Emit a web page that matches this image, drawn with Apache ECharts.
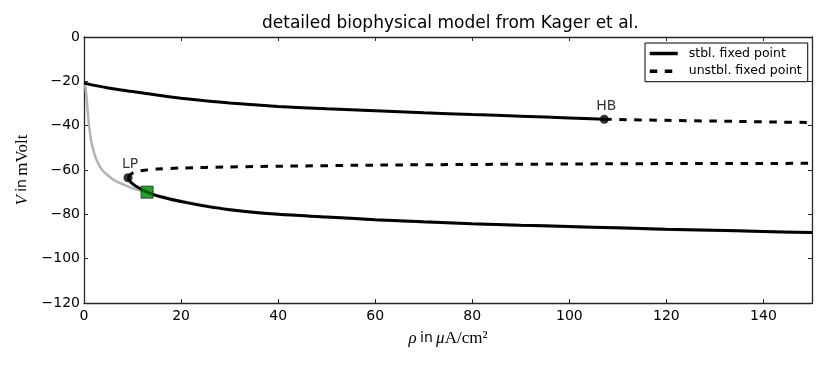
<!DOCTYPE html>
<html>
<head>
<meta charset="utf-8">
<script src="https://cdn.jsdelivr.net/npm/echarts@6/dist/echarts.min.js"></script>
<style>
html,body{margin:0;padding:0;background:#fff;}
#chart{width:830px;height:369px;}
</style>
</head>
<body>
<div id="chart"></div>
<script>
// ---- data ----
const titleText = 'detailed biophysical model from Kager et al.';
const legendNames = ['stbl. fixed point', 'unstbl. fixed point'];

const upperStableX = [0, 5, 10, 15, 20, 25, 30, 40, 50, 60, 70, 80, 90, 100, 107.2];
const upperStableY = [-20.8, -23.0, -24.6, -26.2, -27.6, -28.8, -29.8, -31.3, -32.4, -33.3, -34.2, -35.0, -35.7, -36.5, -37.1];

const upperUnstableX = [107.2, 120, 135, 150];
const upperUnstableY = [-37.1, -37.6, -38.1, -38.6];

const middleUnstableX = [9.07, 9.5, 10.2, 11, 12.5, 15, 20, 30, 40, 60, 80, 100, 120, 150];
const middleUnstableY = [-63.5, -62.2, -61.2, -60.6, -60.1, -59.6, -59.1, -58.6, -58.3, -57.8, -57.5, -57.3, -57.1, -57.0];

const lowerStableX = [9.07, 9.6, 10.3, 11, 12, 13, 14.5, 16, 18, 20, 25, 30, 40, 50, 60, 70, 80, 90, 100, 110, 120, 130, 140, 150];
const lowerStableY = [-63.5, -65.4, -66.7, -67.7, -68.9, -70.0, -71.2, -72.2, -73.3, -74.2, -76.3, -77.9, -80.0, -81.2, -82.4, -83.4, -84.2, -84.9, -85.5, -86.1, -86.7, -87.2, -87.7, -88.2];

const greyX = [0.2, 0.38, 0.55, 0.82, 1.1, 1.5, 2.0, 2.7, 3.7, 5.1, 6.4, 8.2, 9.9, 11.5, 13, 15, 20, 30, 40, 60, 80, 100, 120, 150];
const greyY = [-20.9, -24.0, -27.6, -35.1, -41.1, -47.1, -51.6, -56.1, -59.9, -62.8, -64.8, -66.6, -68.1, -69.2, -70.1, -71.4, -74.0, -77.7, -79.9, -82.6, -84.4, -85.7, -86.9, -88.4];

const bifNames = ['LP', 'HB'];
const bifX = [9.07, 107.2];
const bifY = [-63.5, -37.1];

const squareX = [13.0];
const squareY = [-70.0];

const xTicks = {min: 0, max: 150, interval: 20};
const yTicks = {min: -120, max: 0, interval: 20};

// ---- helpers ----
const zip = (xs, ys) => xs.map((x, i) => [x, ys[i]]);
const minusFmt = v => (v < 0 ? '\u2212' + Math.abs(v) : String(v));

const SANS = 'DejaVu Sans';
const SERIF = 'Liberation Serif';
const AXIS_COLOR = '#262626';

const chart = echarts.init(document.getElementById('chart'), null, {renderer: 'canvas'});

const baseAxisLine = {show: true, onZero: false, lineStyle: {color: AXIS_COLOR, width: 1.3}};
const baseTick = {show: true, inside: true, length: 4, lineStyle: {color: AXIS_COLOR, width: 1}};
const nameRich = {
  it: {fontFamily: SERIF, fontStyle: 'italic', fontSize: 17, color: '#000'},
  rm: {fontFamily: SERIF, fontSize: 17, color: '#000'},
  sans: {fontFamily: SANS, fontSize: 14, color: '#000'}
};
const SMOOTH = 0.3;

const option = {
  animation: false,
  backgroundColor: '#ffffff',
  title: {
    text: titleText,
    left: 257,
    top: 10,
    textStyle: {fontFamily: SANS, fontSize: 17, fontWeight: 'normal', color: '#000'}
  },
  legend: {
    data: legendNames,
    orient: 'vertical',
    left: 645,
    top: 43,
    padding: [4, 6, 4, 3],
    itemWidth: 28,
    itemHeight: 14,
    itemGap: 4.7,
    borderColor: '#000',
    borderWidth: 1,
    borderRadius: 0,
    backgroundColor: '#fff',
    selectedMode: false,
    itemStyle: {opacity: 0},
    lineStyle: {width: 3.5},
    textStyle: {fontFamily: SANS, fontSize: 12.5, color: '#000', padding: [0, 0, 0, 6]}
  },
  grid: {left: 84, right: 18, top: 37, bottom: 66, containLabel: false, outerBoundsMode: 'none'},
  xAxis: [
    {
      type: 'value', position: 'bottom',
      min: xTicks.min, max: xTicks.max, interval: xTicks.interval,
      axisLine: baseAxisLine, axisTick: baseTick,
      splitLine: {show: false},
      axisLabel: {show: true, margin: 6, showMaxLabel: false, color: '#000', fontFamily: SANS, fontSize: 14, formatter: minusFmt},
      name: '{it|\u03c1} {sans|in} {it|\u03bc}{rm|A/cm\u00b2}',
      nameLocation: 'middle',
      nameGap: 27,
      nameTextStyle: {rich: nameRich}
    },
    {
      type: 'value', position: 'top',
      min: xTicks.min, max: xTicks.max, interval: xTicks.interval,
      axisLine: baseAxisLine, axisTick: baseTick,
      splitLine: {show: false}, axisLabel: {show: false}
    }
  ],
  yAxis: [
    {
      type: 'value', position: 'left',
      min: yTicks.min, max: yTicks.max, interval: yTicks.interval,
      axisLine: baseAxisLine, axisTick: baseTick,
      splitLine: {show: false},
      axisLabel: {show: true, margin: 4, color: '#000', fontFamily: SANS, fontSize: 14, formatter: minusFmt},
      name: '{it|V} {sans|in} {rm|mVolt}',
      nameLocation: 'middle',
      nameRotate: 90,
      nameGap: 47,
      nameTextStyle: {rich: nameRich}
    },
    {
      type: 'value', position: 'right',
      min: yTicks.min, max: yTicks.max, interval: yTicks.interval,
      axisLine: baseAxisLine, axisTick: baseTick,
      splitLine: {show: false}, axisLabel: {show: false}
    }
  ],
  series: [
    {
      name: 'grey curve', type: 'line', data: zip(greyX, greyY),
      symbol: 'none', smooth: SMOOTH,
      lineStyle: {color: '#b3b3b3', width: 2.5}, z: 2, silent: true
    },
    {
      name: legendNames[0], type: 'line', data: zip(upperStableX, upperStableY),
      symbol: 'none', smooth: SMOOTH,
      color: '#000', lineStyle: {color: '#000', width: 3, type: 'solid'}, z: 3
    },
    {
      name: legendNames[0], type: 'line', data: zip(lowerStableX, lowerStableY),
      symbol: 'none', smooth: SMOOTH,
      color: '#000', lineStyle: {color: '#000', width: 3, type: 'solid'}, z: 3
    },
    {
      name: legendNames[1], type: 'line', data: zip(upperUnstableX, upperUnstableY),
      symbol: 'none', smooth: SMOOTH,
      color: '#000', lineStyle: {color: '#000', width: 3, type: [7.5, 7.5], cap: 'butt'}, z: 3
    },
    {
      name: legendNames[1], type: 'line', data: zip(middleUnstableX, middleUnstableY),
      symbol: 'none', smooth: SMOOTH,
      color: '#000', lineStyle: {color: '#000', width: 3, type: [7.5, 7.5], cap: 'butt'}, z: 3
    },
    {
      name: 'bifurcations', type: 'scatter',
      data: bifX.map((x, i) => ({name: bifNames[i], value: [x, bifY[i]]})),
      symbol: 'circle', symbolSize: 9,
      itemStyle: {color: '#000'},
      label: {show: true, position: 'top', distance: 1.5, formatter: '{b}', offset: [2, 0],
              fontFamily: SANS, fontSize: 14, color: '#000'},
      z: 5
    },
    {
      name: 'marker', type: 'scatter', data: zip(squareX, squareY),
      symbol: 'rect', symbolSize: 12,
      itemStyle: {color: '#008000', borderColor: '#003300', borderWidth: 1},
      z: 6
    }
  ]
};
chart.setOption(option);
</script>
</body>
</html>
